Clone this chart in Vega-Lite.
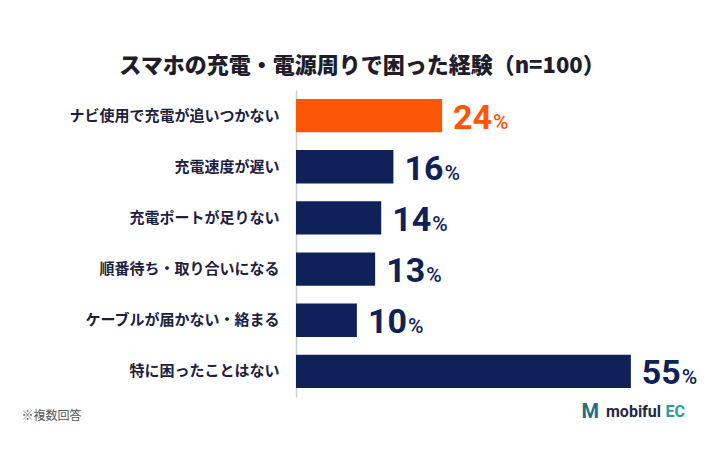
{
  "$schema": "https://vega.github.io/schema/vega-lite/v6.json",
  "autosize": {"type": "none"},
  "width": 414,
  "height": 307,
  "padding": {"left": 296, "top": 90, "right": 0, "bottom": 77},
  "background": "white",
  "title": {
    "text": "スマホの充電・電源周りで困った経験（n=100）",
    "font": "Noto Sans CJK JP",
    "fontSize": 22,
    "fontWeight": 900,
    "color": "#1d1d2b",
    "anchor": "middle",
    "frame": "group",
    "dx": -141,
    "offset": 12
  },
  "config": {"view": {"stroke": null}},
  "data": {
    "values": [
      {"item": "ナビ使用で充電が追いつかない", "pct": 24, "highlight": "yes"},
      {"item": "充電速度が遅い", "pct": 16, "highlight": "no"},
      {"item": "充電ポートが足りない", "pct": 14, "highlight": "no"},
      {"item": "順番待ち・取り合いになる", "pct": 13, "highlight": "no"},
      {"item": "ケーブルが届かない・絡まる", "pct": 10, "highlight": "no"},
      {"item": "特に困ったことはない", "pct": 55, "highlight": "no"}
    ]
  },
  "encoding": {
    "y": {
      "field": "item",
      "type": "nominal",
      "sort": null,
      "scale": {"paddingInner": 0.35, "paddingOuter": 0.175},
      "axis": {
        "title": null,
        "domain": true,
        "domainColor": "#cfcfd4",
        "domainWidth": 1.5,
        "ticks": false,
        "labelFont": "Noto Sans CJK JP",
        "labelFontSize": 15,
        "labelFontWeight": "bold",
        "labelColor": "#1d2040",
        "labelPadding": 17,
        "labelLimit": 300
      }
    }
  },
  "layer": [
    {
      "mark": {"type": "bar"},
      "encoding": {
        "x": {
          "field": "pct",
          "type": "quantitative",
          "scale": {"domain": [0, 68], "nice": false},
          "axis": {
            "domain": false,
            "ticks": false,
            "labels": false,
            "grid": false,
            "title": "※複数回答",
            "titleFont": "Noto Sans CJK JP",
            "titleFontSize": 12,
            "titleFontWeight": "normal",
            "titleColor": "#555555",
            "titleAlign": "left",
            "titleAnchor": "start",
            "titleBaseline": "alphabetic",
            "titleX": -275,
            "titleY": 22
          }
        },
        "color": {
          "field": "highlight",
          "type": "nominal",
          "scale": {"domain": ["yes", "no"], "range": ["#fc5606", "#0e2158"]},
          "legend": null
        }
      }
    },
    {
      "mark": {"type": "text", "align": "left", "baseline": "alphabetic", "dx": 11, "dy": 13, "font": "Roboto", "fontSize": 34, "fontWeight": "bold"},
      "encoding": {
        "x": {"field": "pct", "type": "quantitative"},
        "text": {"field": "pct", "type": "quantitative"},
        "color": {
          "field": "highlight",
          "type": "nominal",
          "scale": {"domain": ["yes", "no"], "range": ["#e8602a", "#1b1f3f"]},
          "legend": null
        }
      }
    },
    {
      "mark": {"type": "text", "align": "left", "baseline": "alphabetic", "dx": 51, "dy": 13, "font": "Roboto", "fontSize": 21, "fontWeight": 500, "text": "%"},
      "encoding": {
        "x": {"field": "pct", "type": "quantitative"},
        "color": {
          "field": "highlight",
          "type": "nominal",
          "legend": null
        }
      }
    },
    {
      "data": {"values": [{"t": "EC"}]},
      "mark": {"type": "text", "align": "right", "baseline": "alphabetic", "dy": 46, "font": "Roboto", "fontSize": 16, "fontWeight": "bold"},
      "encoding": {
        "x": {"datum": 63.9, "type": "quantitative"},
        "y": {"datum": "特に困ったことはない"},
        "text": {"field": "t"},
        "color": {"value": "#2b9aa3"}
      }
    },
    {
      "data": {"values": [{"t": "mobiful"}]},
      "mark": {"type": "text", "align": "right", "baseline": "alphabetic", "dx": -24, "dy": 46, "font": "Roboto", "fontSize": 16, "fontWeight": "bold"},
      "encoding": {
        "x": {"datum": 63.9, "type": "quantitative"},
        "y": {"datum": "特に困ったことはない"},
        "text": {"field": "t"},
        "color": {"value": "#1f2a44"}
      }
    },
    {
      "data": {"values": [{"t": "M"}]},
      "mark": {"type": "text", "align": "right", "baseline": "alphabetic", "dx": -86, "dy": 47, "font": "Roboto", "fontSize": 20, "fontWeight": "bold"},
      "encoding": {
        "x": {"datum": 63.9, "type": "quantitative"},
        "y": {"datum": "特に困ったことはない"},
        "text": {"field": "t"},
        "color": {"value": "#1f6f86"}
      }
    }
  ]
}
